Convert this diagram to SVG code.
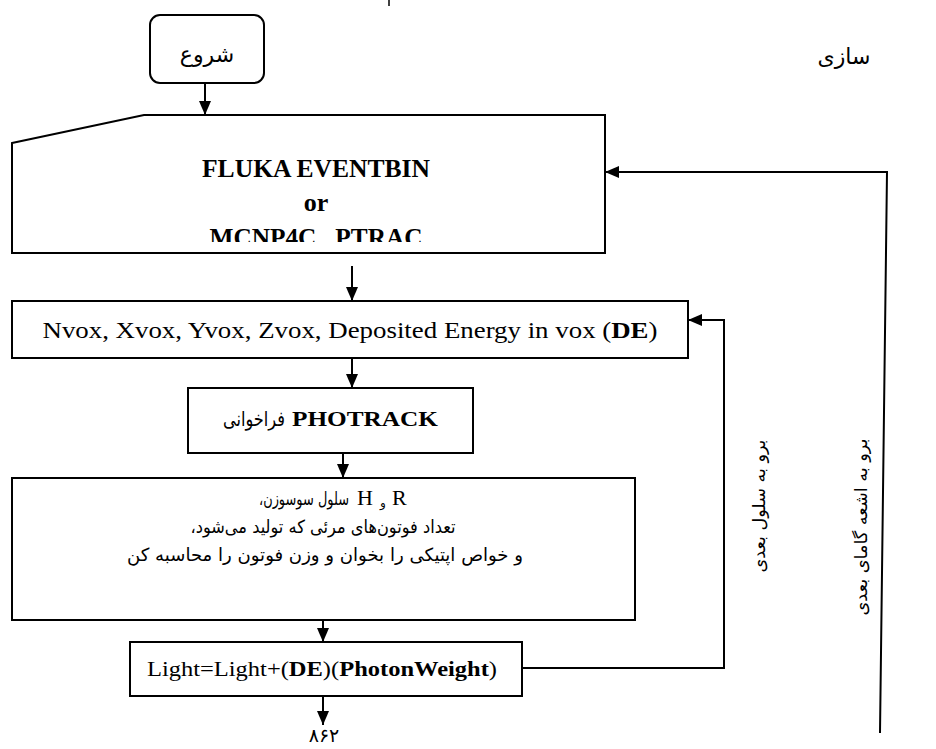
<svg xmlns="http://www.w3.org/2000/svg" width="936" height="749" viewBox="0 0 936 749">
<style>
.box{fill:#fff;stroke:#000;stroke-width:2}
.ln{fill:none;stroke:#000;stroke-width:2}
.en{font-family:"Liberation Serif","Times New Roman",serif;fill:#000}
.fa{font-family:"DejaVu Sans","Noto Sans",sans-serif;fill:#000;direction:rtl;unicode-bidi:embed}
.b{font-weight:bold}
</style>
<defs>
<marker id="ah" viewBox="0 0 14 12" refX="14" refY="6" markerWidth="14" markerHeight="12" markerUnits="userSpaceOnUse" orient="auto">
<path d="M0,0 L14,6 L0,12 Z" fill="#000"/>
</marker>
<clipPath id="clipF"><rect x="0" y="0" width="936" height="242"/></clipPath>
</defs>
<rect width="936" height="749" fill="#fff"/>
<line x1="389" y1="0" x2="389" y2="6" stroke="#000" stroke-width="1.5"/>
<text class="fa" x="844" y="64" font-size="22" text-anchor="middle" direction="rtl">سازی</text>

<g id="start">
<rect class="box" x="150" y="15" width="114" height="68" rx="10"/>
<text class="fa" x="207" y="62" font-size="22" text-anchor="middle" direction="rtl">شروع</text>
</g>

<g id="input">
<path class="box" d="M12,143 L144,115 L605,115 L605,253 L12,253 Z"/>
<text class="en b" x="316" y="177" font-size="26" text-anchor="middle" textLength="228" lengthAdjust="spacingAndGlyphs">FLUKA EVENTBIN</text>
<text class="en b" x="316" y="211" font-size="26" text-anchor="middle">or</text>
<text class="en b" x="316" y="246" font-size="26" text-anchor="middle" clip-path="url(#clipF)" textLength="213" lengthAdjust="spacingAndGlyphs" xml:space="preserve">MCNP4C   PTRAC</text>
</g>

<g id="voxel">
<rect class="box" x="12" y="301" width="676" height="57"/>
<text class="en" x="350" y="338" font-size="23" text-anchor="middle" textLength="615" lengthAdjust="spacingAndGlyphs">Nvox, Xvox, Yvox, Zvox, Deposited Energy in vox (<tspan class="b">DE</tspan>)</text>
</g>

<g id="photrack">
<rect class="box" x="188" y="388" width="285" height="65"/>
<text class="fa" x="254" y="426" font-size="20" text-anchor="middle" direction="rtl" textLength="62" lengthAdjust="spacingAndGlyphs">فراخوانی</text>
<text class="en b" x="292" y="426" font-size="21" textLength="146" lengthAdjust="spacingAndGlyphs">PHOTRACK</text>
</g>

<g id="compute">
<rect class="box" x="12" y="478" width="623" height="142"/>
<text class="fa" x="304" y="505" font-size="18" text-anchor="middle" direction="rtl" textLength="90" lengthAdjust="spacingAndGlyphs">سلول سوسوزن،</text>
<text class="en" x="357" y="505" font-size="22">H</text>
<text class="fa" x="383" y="507" font-size="12" text-anchor="middle" direction="rtl">و</text>
<text class="en" x="392" y="505" font-size="22">R</text>
<text class="fa" x="323" y="533" font-size="18" text-anchor="middle" direction="rtl" textLength="265" lengthAdjust="spacingAndGlyphs">تعداد فوتون‌های مرئی که تولید می‌شود،</text>
<text class="fa" x="325" y="561" font-size="18" text-anchor="middle" direction="rtl" textLength="396" lengthAdjust="spacingAndGlyphs">و خواص اپتیکی را بخوان و وزن فوتون را محاسبه کن</text>
</g>

<g id="light">
<rect class="box" x="130" y="642" width="392" height="54"/>
<text class="en" x="322" y="676" font-size="22" text-anchor="middle" textLength="350" lengthAdjust="spacingAndGlyphs">Light=Light+(<tspan class="b">DE</tspan>)(<tspan class="b">PhotonWeight</tspan>)</text>
</g>

<g id="page">
<text class="fa" x="324" y="742" font-size="19" text-anchor="middle" direction="rtl">۸۶۲</text>
</g>

<g id="labels">
<text class="fa" transform="translate(760,506) rotate(-90)" font-size="17" text-anchor="middle" dominant-baseline="middle" direction="rtl" textLength="133" lengthAdjust="spacingAndGlyphs">برو به سلول بعدی</text>
<text class="fa" transform="translate(862,527) rotate(-90)" font-size="17" text-anchor="middle" dominant-baseline="middle" direction="rtl" textLength="177" lengthAdjust="spacingAndGlyphs">برو به اشعه گامای بعدی</text>
</g>

<g id="connectors">
<line class="ln" x1="205" y1="83" x2="205" y2="115" marker-end="url(#ah)"/>
<line class="ln" x1="352" y1="266" x2="352" y2="301" marker-end="url(#ah)"/>
<line class="ln" x1="352" y1="358" x2="352" y2="388" marker-end="url(#ah)"/>
<line class="ln" x1="343" y1="453" x2="343" y2="478" marker-end="url(#ah)"/>
<line class="ln" x1="323" y1="620" x2="323" y2="642" marker-end="url(#ah)"/>
<line class="ln" x1="323" y1="696" x2="323" y2="725" marker-end="url(#ah)"/>
<polyline class="ln" points="522,668 724,668 724,320 688,320" marker-end="url(#ah)"/>
<polyline class="ln" points="880,733 887,172 605,172" marker-end="url(#ah)"/>
</g>
</svg>
